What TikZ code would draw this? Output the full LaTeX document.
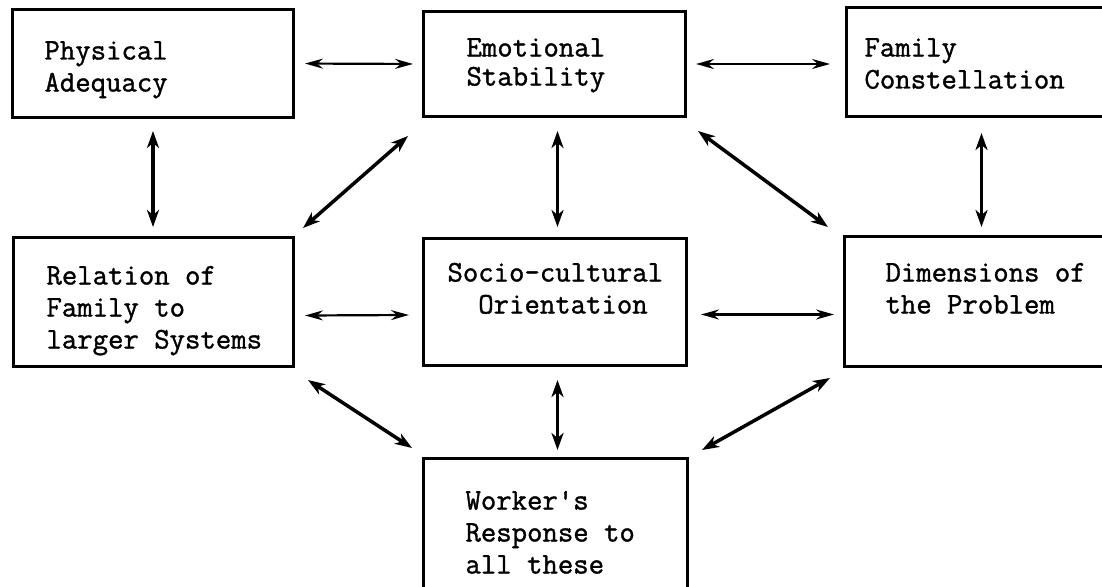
\documentclass[tikz,border=0pt]{standalone}
\usepackage{fontspec}
\newfontfamily\typewriter{Latin Modern Mono}[FakeBold=1.2]
\usetikzlibrary{arrows.meta,calc}
% text block inside a box: width, height, left indent, first baseline, lines
\newcommand\boxlines[5]{%
  \begin{minipage}[c][#2][t]{#1}\raggedright\leftskip=#3\relax
  \rule{0pt}{#4}#5\end{minipage}}
\begin{document}
\begin{tikzpicture}[x=1pt,y=-1pt,
  box/.style={draw, line width=3pt, inner sep=0pt, anchor=north west,
    font=\typewriter\fontsize{29.9}{32}\selectfont},
  link/.style={line width=3.5pt,
    {Stealth[length=17pt,width=12pt,inset=5pt]}-{Stealth[length=17pt,width=12pt,inset=5pt]}},
  flat/.style={line width=2.2pt,
    {Stealth[length=18pt,width=10pt,inset=6pt]}-{Stealth[length=18pt,width=10pt,inset=6pt]}}]
\clip (0,0) rectangle (1102,586);
\fill[white] (0,0) rectangle (1102,586);

% boxes
\node[box] (phys) at (11,8)
  {\boxlines{281pt}{108pt}{32pt}{50pt}{Physical\\Adequacy}};
\node[box] (emot) at (422,10)
  {\boxlines{262pt}{105pt}{43pt}{45pt}{\baselineskip=29pt Emotional\\Stability}};
\node[box] (family) at (845,6)
  {\boxlines{270pt}{109pt}{18pt}{49pt}{Family\\Constellation}};
\node[box] (rel) at (12,236)
  {\boxlines{280pt}{129pt}{33pt}{47pt}{Relation of\\Family to\\larger Systems}};
\node[box] (socio) at (422,237)
  {\boxlines{263pt}{127pt}{24pt}{43pt}{Socio-cultural\\\hphantom{OO}Orientation}};
\node[box] (dim) at (843,235)
  {\boxlines{272pt}{130pt}{41pt}{45pt}{Dimensions of\\the Problem}};
\node[box] (worker) at (422,457)
  {\boxlines{264pt}{160pt}{42pt}{51pt}{Worker's\\Response to\\all these}};

% horizontal links
\draw[flat, shorten <=10pt, shorten >=9pt] (phys.east) -- (emot.west);
\draw[flat, shorten <=9pt, shorten >=15pt] (emot.east) -- (emot.east -| family.west);
\draw[flat] ($(rel.east)+(10,13.5)$) -- ($(socio.west)+(-13,13)$);
\draw[flat] ($(socio.east)+(13,12.5)$) -- ($(dim.west)+(-9,13)$);

% vertical links
\draw[link, shorten <=12pt, shorten >=9pt] (phys.south) -- (phys.south |- rel.north);
\draw[link] ($(emot.south)+(3,13)$) -- ($(socio.north)+(2.5,-10)$);
\draw[link] ($(family.south)+(0,15)$) -- ($(dim.north)+(1,-8)$);
\draw[link] ($(socio.south)+(2.5,13)$) -- ($(worker.north)+(2,-7)$);

% diagonal links
\draw[link] ($(emot.south west)+(-14,18)$) -- ($(rel.north east)+(8,-8)$);
\draw[link] ($(emot.south east)+(11,13)$) -- ($(dim.north west)+(-15,-8)$);
\draw[link] ($(rel.south east)+(13,12)$) -- ($(worker.north west)+(-10,-9)$);
\draw[link] ($(dim.south west)+(-13,10)$) -- ($(worker.north east)+(13,-7)$);
\end{tikzpicture}
\end{document}
